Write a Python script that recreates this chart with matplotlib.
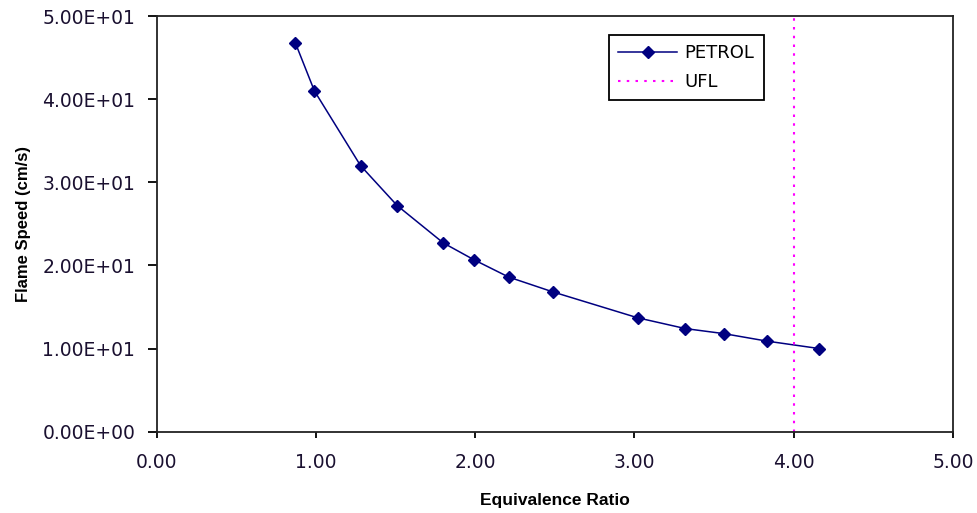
import matplotlib
matplotlib.use('Agg')
import matplotlib.pyplot as plt
from matplotlib.ticker import FuncFormatter

# Flame speed vs equivalence ratio for petrol
phi = [0.87, 0.99, 1.28, 1.51, 1.80, 1.99, 2.21, 2.49, 3.02, 3.32, 3.56, 3.83, 4.16]
flame_speed = [46.8, 41.0, 32.0, 27.2, 22.7, 20.7, 18.6, 16.8, 13.7, 12.4, 11.8, 10.9, 10.0]
ufl = 4.0

x_ticks = [0, 1, 2, 3, 4, 5]
y_ticks = [0, 10, 20, 30, 40, 50]

fig = plt.figure(figsize=(9.77, 5.13), dpi=100, facecolor='white')
ax = fig.add_axes([0.1604, 0.1585, 0.8150, 0.8103])

ax.plot(phi, flame_speed, color='#000080', lw=1.1, marker='D', markersize=6,
        label='PETROL')
ax.axvline(ufl, color='#ff00ff', lw=1.5, linestyle=(0, (1.2, 3)), label='UFL')

ax.set_xlim(0, 5)
ax.set_ylim(0, 50)
ax.set_xticks(x_ticks)
ax.set_yticks(y_ticks)
ax.xaxis.set_major_formatter(FuncFormatter(lambda v, p: f'{v:.2f}'))
ax.yaxis.set_major_formatter(FuncFormatter(lambda v, p: f'{v:.2E}'))

for side in ['left', 'bottom', 'top', 'right']:
    ax.spines[side].set_linewidth(1.3)
    ax.spines[side].set_color('#222222')

ax.tick_params(axis='y', direction='out', length=6.5, width=1.3, pad=9,
               labelsize=13.5, labelcolor='#1a1030')
ax.tick_params(axis='x', direction='out', length=4.5, width=1.3, pad=11,
               labelsize=13.5, labelcolor='#1a1030')

ax.set_xlabel('Equivalence Ratio', fontsize=12.5, fontweight='bold',
              family='Liberation Sans', labelpad=15)
ax.set_ylabel('Flame Speed (cm/s)', fontsize=12, fontweight='bold',
              family='Liberation Sans', labelpad=8)

leg = ax.legend(loc='upper left', bbox_to_anchor=(0.5565, 0.976), fontsize=13,
                fancybox=False, framealpha=1, edgecolor='black',
                handlelength=3.3, handletextpad=0.4, borderpad=0.5,
                labelspacing=0.6)
leg.get_frame().set_linewidth(1.3)

fig.savefig('out.png', dpi=100, facecolor='white')
